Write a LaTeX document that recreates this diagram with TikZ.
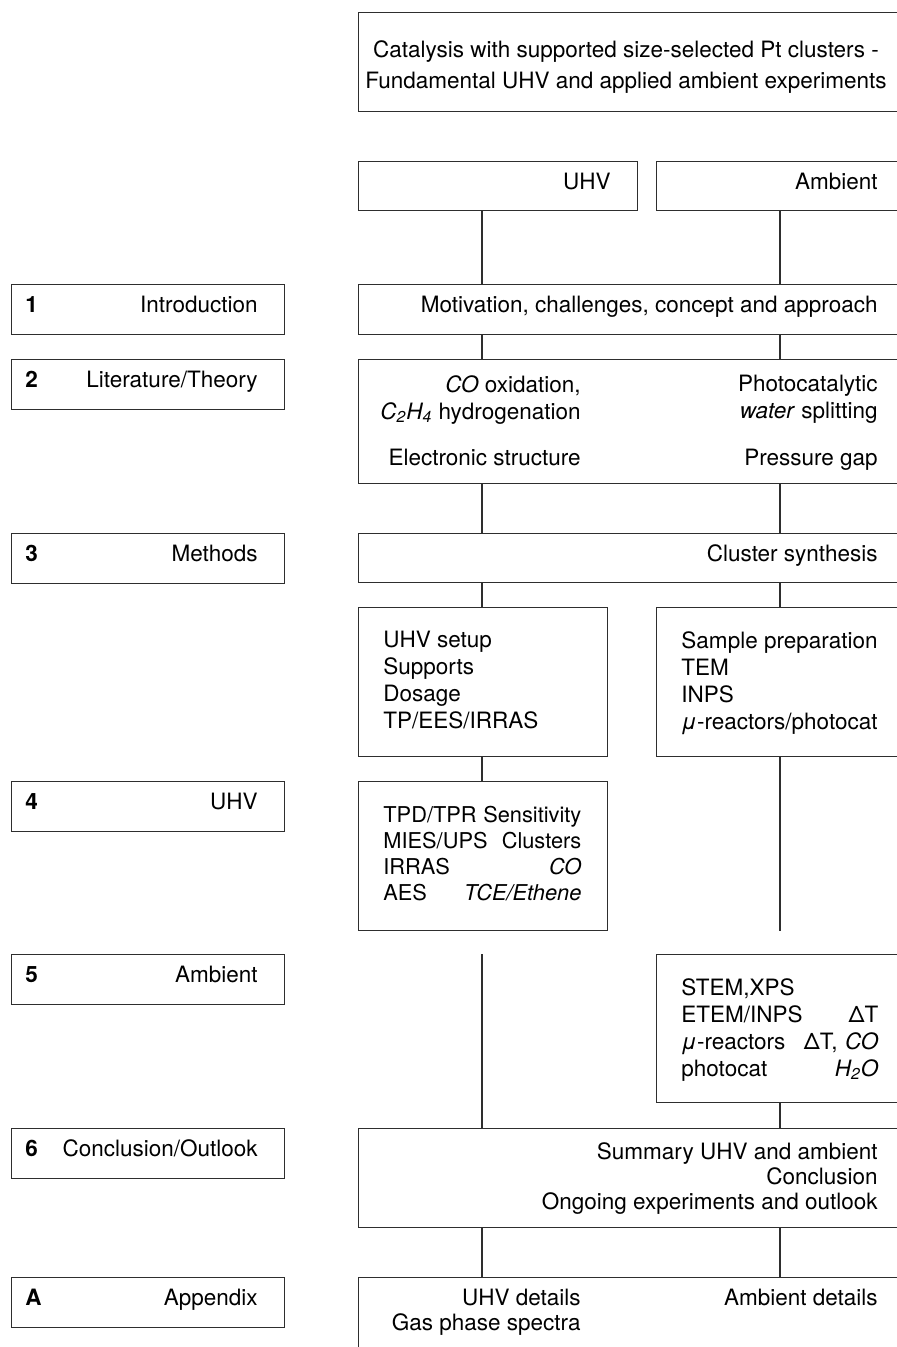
\documentclass[tikz,border=0pt]{standalone}
\usepackage{fontspec}
\setmainfont{TeX Gyre Heros}
\usepackage{xcolor}
\definecolor{frame}{HTML}{2E2E2E}
\tikzset{
  box/.style={draw=frame, line width=0.65pt, inner sep=0pt, anchor=north west},
  lbox/.style={box, minimum width=136.65pt, minimum height=25pt},
  wide/.style={box, minimum width=281.15pt},
  half/.style={box, minimum width=124.65pt},
  side/.style={box, minimum width=132pt},
  txt/.style={inner sep=0pt, font=\fontsize{11.25}{13.5}\selectfont},
  num/.style={inner sep=0pt, anchor=base west, font=\fontsize{11.25}{13.5}\selectfont\bfseries},
  lab/.style={txt, anchor=base east},
  link/.style={draw=frame, line width=0.65pt}
}
\begin{document}
\begin{tikzpicture}[x=0.5pt,y=-0.5pt]
\useasboundingbox (0,0) rectangle (896,1347);
\coordinate (uhvx) at (482,0);
\coordinate (ambx) at (780,0);

% chapters
\node[lbox] (c1) at (10.7,284) {};
\node[num] (n1) at (25,312.5) {1};
\node[lab] (t1) at (258,312.5) {Introduction};
\node[lbox] (c2) at (10.7,359) {};
\node[num] (n2) at (25,387.5) {2};
\node[lab] (t2) at (258,387.5) {Literature/Theory};
\node[lbox] (c3) at (10.7,533) {};
\node[num] (n3) at (25,561.5) {3};
\node[lab] (t3) at (258,561.5) {Methods};
\node[lbox] (c4) at (10.7,781) {};
\node[num] (n4) at (25,809.5) {4};
\node[lab] (t4) at (258,809.5) {UHV};
\node[lbox] (c5) at (10.7,954) {};
\node[num] (n5) at (25,982.5) {5};
\node[lab] (t5) at (258,982.5) {Ambient};
\node[lbox] (c6) at (10.7,1128) {};
\node[num] (n6) at (25,1156.5) {6};
\node[lab] (t6) at (258,1156.5) {Conclusion/Outlook};
\node[lbox] (ca) at (10.7,1277) {};
\node[num] (na) at (25,1305.5) {A};
\node[lab] (ta) at (258,1305.5) {Appendix};

% thesis boxes
\node[wide, minimum height=49.35pt] (title) at (357.7,12) {};
\node[txt, align=center, anchor=north, font=\fontsize{11.25}{15.15}\selectfont] (titletext) at (626,40.5)
  {Catalysis with supported size-selected Pt clusters -\\Fundamental UHV and applied ambient experiments};
\node[box, minimum width=139.65pt, minimum height=24.5pt] (uhv) at (357.7,161) {};
\node[lab] (uhvtext) at (611,189.5) {UHV};
\node[side, minimum height=24.5pt] (amb) at (656,161) {};
\node[lab] (ambtext) at (878,189.5) {Ambient};

\node[wide, minimum height=25pt] (motiv) at (357.7,284) {};
\node[lab] (motivtext) at (878,312.5) {Motivation, challenges, concept and approach};

\node[wide, minimum height=62pt] (lit) at (357.7,359) {};
\node[txt, align=right, anchor=north east] (lituhv) at (581,374.8)
  {\textit{CO} oxidation,\\\textit{C\textsubscript{2}H\textsubscript{4}} hydrogenation};
\node[lab] (litel) at (581,466) {Electronic structure};
\node[txt, align=right, anchor=north east] (litamb) at (878,374.8)
  {Photocatalytic\\\textit{water} splitting};
\node[lab] (litgap) at (878,466) {Pressure gap};

\node[wide, minimum height=24.5pt] (clus) at (357.7,533) {};
\node[lab] (clustext) at (878,561.5) {Cluster synthesis};

\node[half, minimum height=74.5pt] (setup) at (357.7,607) {};
\node[txt, align=left, anchor=north west] (setuptext) at (383,630.8)
  {UHV setup\\Supports\\Dosage\\TP/EES/IRRAS};
\node[side, minimum height=74.5pt] (prep) at (656,607) {};
\node[txt, align=left, anchor=north west] (preptext) at (681,630.8)
  {Sample preparation\\TEM\\INPS\\\textit{μ}-reactors/photocat};

\node[half, minimum height=74.5pt] (uhvres) at (357.7,781) {};
\node[txt, text width=99pt, align=left, anchor=north west, font=\fontsize{10.9}{13}\selectfont] (uhvrestext) at (383,806)
  {TPD/TPR\hfill Sensitivity\\MIES/UPS\hfill Clusters\\IRRAS\hfill\textit{CO}\\AES\hfill\textit{TCE/Ethene}};

\node[side, minimum height=74pt] (ambres) at (656,954) {};
\node[txt, text width=98.5pt, align=left, anchor=north west] (ambrestext) at (681,977.8)
  {STEM,XPS\\ETEM/INPS\hfill ΔT\\\textit{μ}-reactors\hfill ΔT, \textit{CO}\\photocat\hfill\textit{H\textsubscript{2}O}};

\node[wide, minimum height=49.5pt] (summ) at (357.7,1128) {};
\node[txt, align=right, anchor=north east, font=\fontsize{11.25}{12.5}\selectfont] (summtext) at (878,1141.8)
  {Summary UHV and ambient\\Conclusion\\Ongoing experiments and outlook};

\node[wide, minimum height=41.5pt] (app) at (357.7,1277) {};
\node[txt, align=right, anchor=north east, font=\fontsize{11.25}{12.5}\selectfont] (appuhv) at (581,1288.8)
  {UHV details\\Gas phase spectra};
\node[lab] (appamb) at (878,1305) {Ambient details};

% connectors
\draw[link] (uhv.south -| uhvx) -- (motiv.north -| uhvx);
\draw[link] (amb.south -| ambx) -- (motiv.north -| ambx);
\draw[link] (motiv.south -| uhvx) -- (lit.north -| uhvx);
\draw[link] (motiv.south -| ambx) -- (lit.north -| ambx);
\draw[link] (lit.south -| uhvx) -- (clus.north -| uhvx);
\draw[link] (lit.south -| ambx) -- (clus.north -| ambx);
\draw[link] (clus.south -| uhvx) -- (setup.north -| uhvx);
\draw[link] (clus.south -| ambx) -- (prep.north -| ambx);
\draw[link] (setup.south -| uhvx) -- (uhvres.north -| uhvx);
\draw[link] (prep.south -| ambx) -- (uhvres.south -| ambx);
\draw[link] (ambres.north -| uhvx) -- (summ.north -| uhvx);
\draw[link] (ambres.south -| ambx) -- (summ.north -| ambx);
\draw[link] (summ.south -| uhvx) -- (app.north -| uhvx);
\draw[link] (summ.south -| ambx) -- (app.north -| ambx);
\end{tikzpicture}
\end{document}
